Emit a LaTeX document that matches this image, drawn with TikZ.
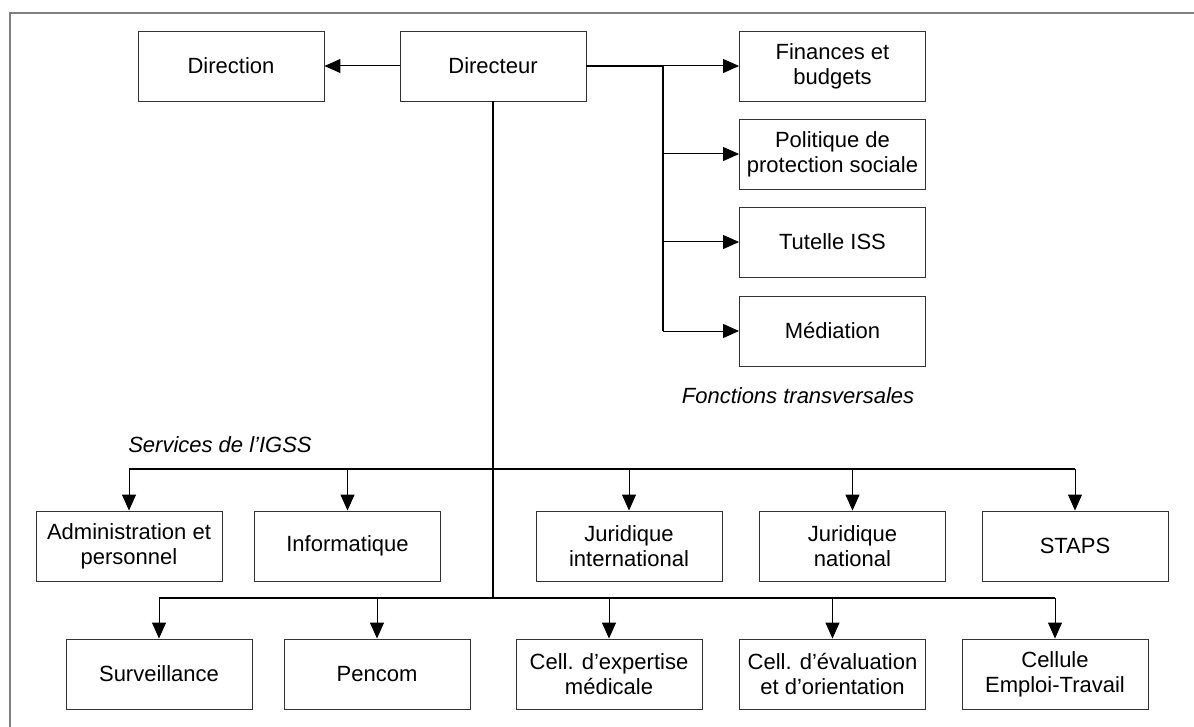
\documentclass[tikz,border=0pt]{standalone}
\usepackage{fontspec}
\setmainfont{Liberation Sans}
\usetikzlibrary{arrows.meta}

\tikzset{
  unit/.style={draw=black!80, line width=0.9pt, minimum width=186pt, minimum height=70pt, align=center, inner sep=2pt},
  tag/.style={font=\fontsize{22}{25}\selectfont\itshape},
  link/.style={line width=1.5pt},
  arr/.style={line width=1pt, -{Triangle[length=16pt,width=14pt]}}
}

\begin{document}
\begin{tikzpicture}[x=1pt,y=-1pt,font=\fontsize{22}{25}\selectfont]
\useasboundingbox (0,0) rectangle (1194,727);
% Draw the frame
\draw[black!50, line width=1.5pt] (10,727) -- (10,13) -- (1194,13);

% Top: director and transverse functions
\node[unit] (direction) at (231,66) {Direction};
\node[unit] (directeur) at (493,66) {Directeur};
\node[unit] (fin) at (832.5,66) {Finances et\\budgets};
\node[unit] (pol) at (832.5,154) {Politique de\\protection sociale};
\node[unit] (tut) at (832.5,242) {Tutelle ISS};
\node[unit] (med) at (832.5,331) {Médiation};
\node[tag] (fct) at (798,396) {Fonctions transversales};

% Services, first row
\node[tag] (svc) at (220,445) {Services de l’IGSS};
\node[unit] (adm) at (129,546) {Administration et\\personnel};
\node[unit] (info) at (347.5,546) {Informatique};
\node[unit] (jurint) at (629,546) {Juridique\\international};
\node[unit] (jurnat) at (852.5,546) {Juridique\\national};
\node[unit] (staps) at (1075,546) {STAPS};

% Services, second row
\node[unit] (surv) at (159,674) {Surveillance};
\node[unit] (pencom) at (377,674) {Pencom};
\node[unit] (expert) at (609,674) {Cell. d’expertise\\médicale};
\node[unit] (eval) at (832.5,674) {Cell. d’évaluation\\et d’orientation};
\node[unit] (emploi) at (1055,674) {Cellule\\Emploi-Travail};

\coordinate (hub) at (663,66);
\coordinate (bus1) at (493,469);
\coordinate (bus2) at (493,598);

% Connectors
\draw[arr] (directeur.west) -- (direction.east);
\draw[link] (directeur.east) -- (hub);
\draw[arr] (hub) -- (fin.west);
\draw[link] (hub) -- (hub |- med);
\foreach \b in {pol,tut,med}
  \draw[arr] (hub |- \b) -- (\b.west);

\draw[link] (directeur.south) -- (bus2);
\draw[link] (adm |- bus1) -- (staps |- bus1);
\foreach \b in {adm,info,jurint,jurnat,staps}
  \draw[arr] (\b |- bus1) -- (\b.north);
\draw[link] (surv |- bus2) -- (emploi |- bus2);
\foreach \b in {surv,pencom,expert,eval,emploi}
  \draw[arr] (\b |- bus2) -- (\b.north);
\end{tikzpicture}
\end{document}
